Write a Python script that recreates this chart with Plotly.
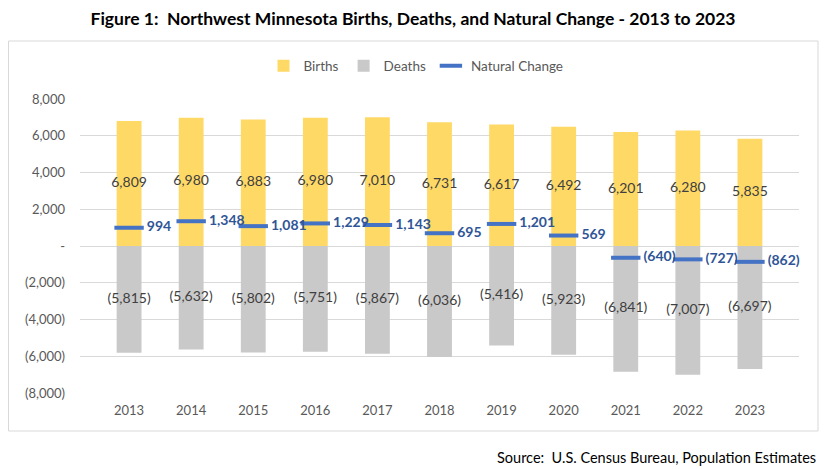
import plotly.graph_objects as go

years = ["2013", "2014", "2015", "2016", "2017", "2018", "2019", "2020", "2021", "2022", "2023"]
births = [6809, 6980, 6883, 6980, 7010, 6731, 6617, 6492, 6201, 6280, 5835]
deaths = [-5815, -5632, -5802, -5751, -5867, -6036, -5416, -5923, -6841, -7007, -6697]
natural = [994, 1348, 1081, 1229, 1143, 695, 1201, 569, -640, -727, -862]

ytick_vals = [8000, 6000, 4000, 2000, 0, -2000, -4000, -6000, -8000]
ytick_text = ["8,000", "6,000", "4,000", "2,000", "-", "(2,000)", "(4,000)", "(6,000)", "(8,000)"]


def fmt(v):
    return f"{v:,}" if v >= 0 else f"({-v:,})"


FONT = "Lato"
W, H = 822, 461
L, R, T, B = 72, 31, 91, 76
PW, PH = W - L - R, H - T - B


def px(fx):
    return (fx - L) / PW


def py(fy):
    return (H - B - fy) / PH


fig = go.Figure()
fig.add_trace(go.Bar(x=years, y=births, name="Births", marker_color="#FFD966", marker_line_width=0))
fig.add_trace(go.Bar(x=years, y=deaths, name="Deaths", marker_color="#C9C9C9", marker_line_width=0))
fig.add_trace(go.Scatter(
    x=years, y=natural, name="Natural Change", mode="markers+text",
    marker=dict(symbol="line-ew", size=21, line=dict(width=4, color="#4472C4")),
    text=["\u00a0<b>" + fmt(v) + "</b>" for v in natural], textposition="middle right",
    textfont=dict(color="#2F5597", size=14, family=FONT), cliponaxis=False,
))
fig.add_trace(go.Scatter(
    x=years, y=[v / 2 for v in births], mode="text", showlegend=False, hoverinfo="skip",
    text=[fmt(v) for v in births], textposition="middle center",
    textfont=dict(color="#404040", size=14, family=FONT), cliponaxis=False,
))
fig.add_trace(go.Scatter(
    x=years, y=[v / 2 for v in deaths], mode="text", showlegend=False, hoverinfo="skip",
    text=[fmt(v) for v in deaths], textposition="middle center",
    textfont=dict(color="#404040", size=14, family=FONT), cliponaxis=False,
))

fig.update_layout(
    width=W, height=H,
    paper_bgcolor="white", plot_bgcolor="white",
    barmode="relative", bargap=0.6,
    margin=dict(l=L, r=R, t=T, b=B, autoexpand=False),
    font=dict(family=FONT, color="#595959", size=13),
    title=dict(text="<b>Figure 1:  Northwest Minnesota Births, Deaths, and Natural Change - 2013 to 2023</b>",
               xref="container", yref="container",
               x=405 / W, xanchor="center", y=1 - 10.5 / H, yanchor="middle",
               font=dict(size=17.5, color="black", family=FONT)),
    legend=dict(orientation="h", xref="container", yref="container",
                x=408 / W, xanchor="center", y=1 - 58 / H, yanchor="middle",
                font=dict(size=13.5, color="#595959", family=FONT), traceorder="normal",
                itemwidth=30),
    showlegend=True,
    shapes=[dict(type="rect", xref="paper", yref="paper",
                 x0=px(0.5), x1=px(810), y0=py(33), y1=py(423),
                 line=dict(color="#D9D9D9", width=1), fillcolor="rgba(0,0,0,0)", layer="below")],
)
fig.update_xaxes(showgrid=False, showline=False, ticks="", automargin=False,
                 tickfont=dict(size=13, color="#595959"), ticklabelstandoff=8)
fig.update_yaxes(range=[-8000, 8000], tickvals=ytick_vals, ticktext=ytick_text, automargin=False,
                 showgrid=True, gridcolor="#D9D9D9", gridwidth=1, zeroline=False,
                 tickfont=dict(size=13, color="#595959"), ticks="", ticklabelstandoff=14)
fig.add_annotation(text="Source:  U.S. Census Bureau, Population Estimates", xref="paper", yref="paper",
                   x=px(810), y=py(449), xanchor="right", yanchor="middle", showarrow=False,
                   font=dict(size=14.5, color="black", family=FONT))
fig.write_html("out.html")
